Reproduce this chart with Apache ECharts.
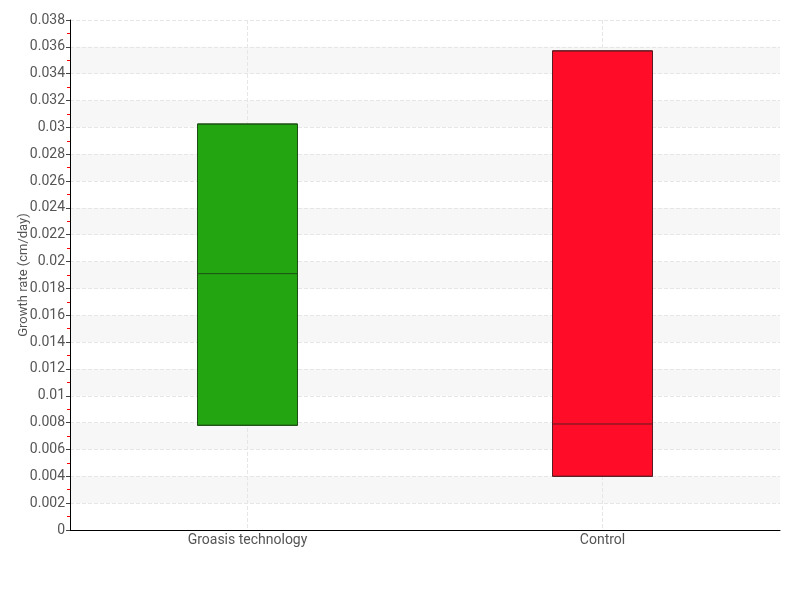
<!DOCTYPE html>
<html><head><meta charset="utf-8">
<script src="https://cdn.jsdelivr.net/npm/echarts@6/dist/echarts.min.js"></script>
<style>html,body{margin:0;padding:0;background:#fff}#c{width:800px;height:600px}</style>
</head><body><div id="c"></div>
<script>
const categories = ['Groasis technology', 'Control'];
// [min, Q1, median, Q3, max]
const groasis = [0.0078, 0.0078, 0.0191, 0.03025, 0.03025];
const control = [0.0040, 0.0040, 0.0079, 0.0357, 0.0357];
const yTicks = {min: 0, max: 0.038, interval: 0.002};
const boxColors = ['#22a511', '#ff0d28'];
const boxBorders = ['#1d4f14', '#5a1c22'];
// helper positions for vertical grid lines through category centres
const gridSlots = ['a', 'b', 'c', 'd', 'e'];

const font = "'Roboto', sans-serif";
const chart = echarts.init(document.getElementById('c'));
chart.setOption({
  animation: false,
  grid: {left: 70, right: 20, top: 20, bottom: 70, containLabel: false, outerBoundsMode: 'none'},
  xAxis: [{
    type: 'category', data: categories, boundaryGap: true,
    axisLine: {lineStyle: {color: '#000', width: 1}},
    axisTick: {alignWithLabel: true, length: 4, lineStyle: {color: '#555'}},
    axisLabel: {color: '#555', fontFamily: font, fontSize: 14, margin: 3},
    splitLine: {show: false}
  }, {
    type: 'category', data: gridSlots, boundaryGap: false, position: 'bottom',
    axisLine: {show: false}, axisTick: {show: false}, axisLabel: {show: false},
    splitLine: {show: true, interval: (i) => i === 1 || i === 3,
      lineStyle: {type: 'dashed', color: '#e6e6e6'}}
  }],
  yAxis: {
    type: 'value', min: yTicks.min, max: yTicks.max, interval: yTicks.interval,
    name: 'Growth rate (cm/day)', nameLocation: 'middle', nameGap: 40, nameMoveOverlap: false,
    nameTextStyle: {color: '#555', fontFamily: font, fontSize: 13},
    axisLine: {show: true, lineStyle: {color: '#000', width: 1}},
    axisTick: {show: true, length: 4, lineStyle: {color: '#444'}},
    minorTick: {show: true, splitNumber: 2, length: 3, lineStyle: {color: '#ff0000'}},
    axisLabel: {color: '#555', fontFamily: font, fontSize: 14, margin: 5,
      formatter: v => String(parseFloat(v.toFixed(4)))},
    splitLine: {show: true, lineStyle: {type: 'dashed', color: '#e6e6e6'}},
    splitArea: {show: true, areaStyle: {color: ['rgba(255,255,255,0)', '#f7f7f7']}}
  },
  series: [{
    type: 'boxplot',
    xAxisIndex: 0,
    boxWidth: [100, 100],
    data: [
      {value: groasis, itemStyle: {color: boxColors[0], borderColor: boxBorders[0], borderWidth: 1}},
      {value: control, itemStyle: {color: boxColors[1], borderColor: boxBorders[1], borderWidth: 1}}
    ]
  }]
});
</script></body></html>
